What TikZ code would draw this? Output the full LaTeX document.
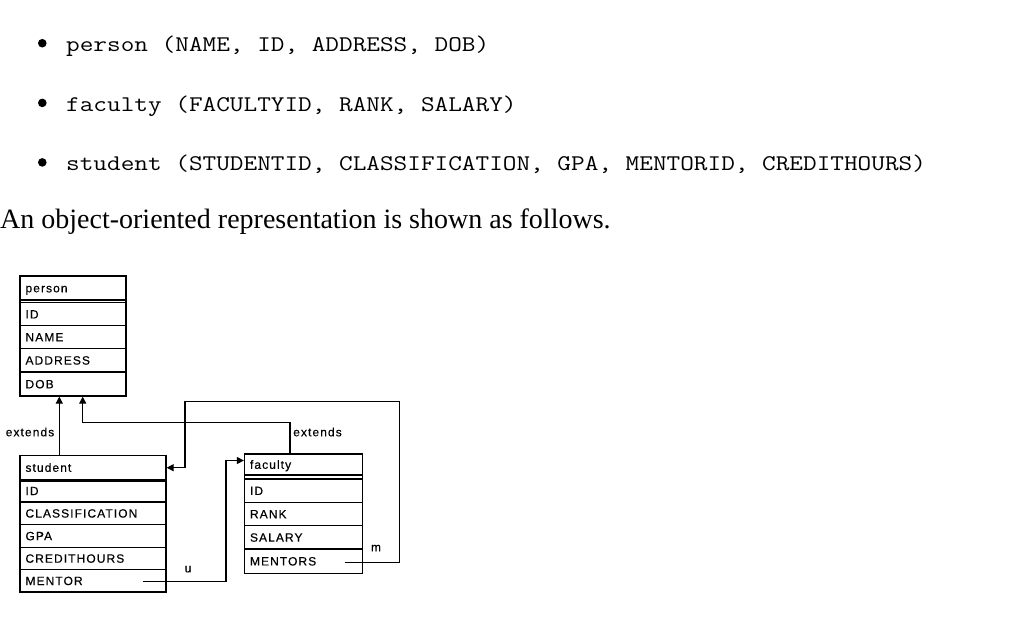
\documentclass[tikz,border=0pt]{standalone}
\usepackage{fontspec}
\setmainfont{Liberation Serif}
\newfontfamily\monof[FakeStretch=1.183]{Latin Modern Mono}
\newfontfamily\diagf[LetterSpace=9,FakeBold=0.4]{Liberation Sans}
\usetikzlibrary{arrows.meta}
\tikzset{
  row/.style={draw, line width=1.3pt, rectangle, inner xsep=5.5pt, inner ysep=0pt, align=left,
    font=\diagf\fontsize{12pt}{14pt}\selectfont, text height=8.6pt, text depth=0pt, anchor=center},
  frame/.style={draw, line width=1.3pt, rectangle, inner sep=0pt},
  conn/.style={line width=1.3pt},
  arr/.style={-{Triangle[length=7pt,width=7pt]}},
  lbl/.style={inner sep=0pt, font=\diagf\fontsize{12pt}{14pt}\selectfont, text height=8.6pt, text depth=0pt},
  mono/.style={inner sep=0pt, anchor=base west, font=\monof\fontsize{22.4pt}{27pt}\selectfont},
  bul/.style={circle, fill=black, inner sep=0pt, minimum size=8.6pt},
}
\begin{document}
\begin{tikzpicture}[x=1pt,y=-1pt]
\useasboundingbox (0,0) rectangle (1024,627);
% top list
\node[bul] (b1) at (42.3,43.2) {};
\node[bul] (b2) at (42.3,102.9) {};
\node[bul] (b3) at (42.3,162.4) {};
\node[mono] (t1) at (66,51.5) {person (NAME, ID, ADDRESS, DOB)};
\node[mono] (t2) at (66,111.2) {faculty (FACULTYID, RANK, SALARY)};
\node[mono] (t3) at (66,170.7) {student (STUDENTID, CLASSIFICATION, GPA, MENTORID, CREDITHOURS)};
\node[inner sep=0pt, anchor=base west, font=\fontsize{28pt}{32pt}\selectfont] (intro) at (0,228.7) {An object-oriented representation is shown as follows.};
% person
\node[frame, minimum width=106pt, minimum height=120pt] (person) at (73,336) {};
\node[row, text width=95pt, minimum height=24pt] (p0) at (73,288) {person};
\node[row, text width=95pt, minimum height=23.1pt] (p1) at (73,314.15) {ID};
\node[row, text width=95pt, minimum height=22.8pt] (p2) at (73,337.1) {NAME};
\node[row, text width=95pt, minimum height=23.5pt] (p3) at (73,360.25) {ADDRESS};
\node[row, text width=95pt, minimum height=24pt] (p4) at (73,384) {DOB};
% student
\node[frame, minimum width=146pt, minimum height=136.5pt] (student) at (93,523.75) {};
\node[row, text width=135pt, minimum height=24pt] (s0) at (93,467.5) {student};
\draw[line width=3pt] (s0.south west) -- (s0.south east);
\node[row, text width=135pt, minimum height=22.5pt] (s1) at (93,490.75) {ID};
\node[row, text width=135pt, minimum height=22.5pt] (s2) at (93,513.25) {CLASSIFICATION};
\node[row, text width=135pt, minimum height=22.8pt] (s3) at (93,535.9) {GPA};
\node[row, text width=135pt, minimum height=22.2pt] (s4) at (93,558.4) {CREDITHOURS};
\node[row, text width=135pt, minimum height=22.5pt] (s5) at (93,580.75) {MENTOR};
% faculty
\node[frame, minimum width=118.2pt, minimum height=119.3pt] (faculty) at (303.6,513.65) {};
\node[row, text width=107.2pt, minimum height=21pt] (f0) at (303.6,464.5) {faculty};
\node[row, text width=107.2pt, minimum height=23.3pt] (f1) at (303.6,490.65) {ID};
\node[row, text width=107.2pt, minimum height=23.4pt] (f2) at (303.6,514) {RANK};
\node[row, text width=107.2pt, minimum height=23.3pt] (f3) at (303.6,537.35) {SALARY};
\node[row, text width=107.2pt, minimum height=24.3pt] (f4) at (303.6,561.15) {MENTORS};
% connectors
\coordinate (ax1) at (59.3,0);
\coordinate (ax2) at (82.7,0);
\coordinate (e2) at (290,422.3);
\draw[conn,arr] (s0.north -| ax1) -- (p4.south -| ax1);
\draw[conn,arr] (f0.north -| e2) -- (e2) -- (e2 -| ax2) -- (p4.south -| ax2);
\coordinate (u1) at (142.7,581.5);
\coordinate (u2) at (226,460.5);
\draw[conn,arr] (u1) -- (u1 -| u2) -- (u2) -- (u2 -| f0.west);
\coordinate (m1) at (344.5,562.5);
\coordinate (m2) at (399.5,401.5);
\coordinate (m3) at (185,467.7);
\draw[conn,arr] (m1) -- (m1 -| m2) -- (m2) -- (m2 -| m3) -- (m3) -- (m3 -| s0.east);
% labels
\node[lbl] (l1) at (30,432) {extends};
\node[lbl] (l2) at (317.5,432) {extends};
\node[lbl] (l3) at (188,568) {u};
\node[lbl] (l4) at (376,547) {m};
\end{tikzpicture}
\end{document}
